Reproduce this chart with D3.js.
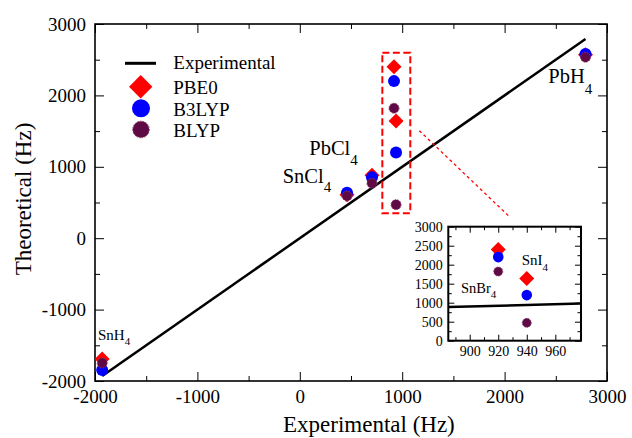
<!DOCTYPE html>
<html><head><meta charset="utf-8">
<script src="https://cdn.jsdelivr.net/npm/d3@7"></script>
<style>
body{margin:0;background:#fff}
svg{display:block}
text{font-family:"Liberation Serif","Times New Roman",serif;fill:#000}
</style>
</head><body>
<svg id="c" width="632" height="438"></svg>
<script>
// ---- data ----
const compounds    = ["SnH4", "SnCl4", "PbCl4", "SnBr4", "SnI4", "PbH4"];
const experimental = [-1930, 461, 705, 920, 940, 2790];
const pbe0         = [-1692, 610, 880, 2400, 1640, 2570];
const b3lyp        = [-1846, 637, 853, 2200, 1200, 2580];
const blyp         = [-1748, 591, 769, 1820, 470, 2535];
const mainTicks    = [-2000, -1000, 0, 1000, 2000, 3000];
const insetXTicks  = [900, 920, 940, 960];
const insetYTicks  = [0, 500, 1000, 1500, 2000, 2500, 3000];
const insetCompounds = ["SnBr4", "SnI4"];

const svg = d3.select("#c");
const RED = "#ff0000", BLUE = "#0000ff", PURP = "#5f0a45";
const fmt = d => String(d);

// ---- main scales ----
const x = d3.scaleLinear([-2000, 3000], [95, 607]);
const y = d3.scaleLinear([-2000, 3000], [381, 24]);
const minorMain = d3.range(-2000, 3001, 500).filter(v => v % 1000 !== 0);

function axes(g, xs, ys, majX, minX, majY, minY, L, l, fs, padX, padY) {
  const [x0, x1] = xs.range(), [y0, y1] = ys.range();
  const mk = (gen, vals, size, f, pad) => gen.tickValues(vals).tickSize(-size).tickPadding(pad).tickFormat(f);
  const add = (tr, axis) => {
    const a = g.append("g").attr("transform", tr).call(axis);
    a.select(".domain").remove();
    a.attr("font-family", null);
    a.selectAll("line").attr("stroke", "#000").attr("stroke-width", 1);
    a.selectAll("text").attr("font-size", fs).attr("fill", "#000");
    return a;
  };
  add(`translate(0,${y0})`, mk(d3.axisBottom(xs), majX, L, fmt, padX));
  add(`translate(0,${y0})`, mk(d3.axisBottom(xs), minX, l, "", padX));
  add(`translate(0,${y1})`, mk(d3.axisTop(xs), majX, L, "", padX));
  add(`translate(0,${y1})`, mk(d3.axisTop(xs), minX, l, "", padX));
  add(`translate(${x0},0)`, mk(d3.axisLeft(ys), majY, L, fmt, padY));
  add(`translate(${x0},0)`, mk(d3.axisLeft(ys), minY, l, "", padY));
  add(`translate(${x1},0)`, mk(d3.axisRight(ys), majY, L, "", padY));
  add(`translate(${x1},0)`, mk(d3.axisRight(ys), minY, l, "", padY));
}

const gMain = svg.append("g");
axes(gMain, x, y, mainTicks, minorMain, mainTicks, minorMain, 9, 5, 19, 8.5, 9);
gMain.append("rect").attr("x", 95).attr("y", 24).attr("width", 512).attr("height", 357)
  .attr("fill", "none").attr("stroke", "#000").attr("stroke-width", 1.6);

// ---- markers ----
function diamond(g, cx, cy, half, color) {
  g.append("path")
    .attr("d", d3.symbol(d3.symbolSquare, (half * Math.SQRT2) ** 2)())
    .attr("transform", `translate(${cx},${cy}) rotate(45)`)
    .attr("fill", color);
}
function dot(g, cx, cy, r, color, dotted) {
  const c = g.append("circle").attr("cx", cx).attr("cy", cy).attr("r", r).attr("fill", color);
  if (dotted) c.attr("stroke", "#8a3a6a").attr("stroke-width", 1).attr("stroke-dasharray", "1.5,1.2");
}

// experimental line y = x
const ext = d3.extent(experimental);
gMain.append("line")
  .attr("x1", x(ext[0])).attr("y1", y(ext[0]))
  .attr("x2", x(ext[1])).attr("y2", y(ext[1]))
  .attr("stroke", "#000").attr("stroke-width", 2.5);

const gPts = svg.append("g");
compounds.forEach((c, i) => {
  diamond(gPts, x(experimental[i]), y(pbe0[i]), 7.5, RED);
  dot(gPts, x(experimental[i]), y(b3lyp[i]), 6, BLUE, false);
  dot(gPts, x(experimental[i]), y(blyp[i]), 5, PURP, true);
});

// ---- zoom box & pointer (data units) ----
const zoomBox = [806, 1079, 349, 2598];
svg.append("rect")
  .attr("x", x(zoomBox[0])).attr("y", y(zoomBox[3]))
  .attr("width", x(zoomBox[1]) - x(zoomBox[0])).attr("height", y(zoomBox[2]) - y(zoomBox[3]))
  .attr("fill", "none").attr("stroke", RED).attr("stroke-width", 2).attr("stroke-dasharray", "7,3.5");
const pointer = [[1167, 1506], [2053, 293]];
svg.append("line")
  .attr("x1", x(pointer[0][0])).attr("y1", y(pointer[0][1]))
  .attr("x2", x(pointer[1][0])).attr("y2", y(pointer[1][1]))
  .attr("stroke", RED).attr("stroke-width", 1.3).attr("stroke-dasharray", "3,3");

// ---- labels ----
function chem(g, px, py, base, sub, fs, sfs, dy) {
  const t = g.append("text").attr("x", px).attr("y", py).attr("font-size", fs);
  t.append("tspan").text(base);
  t.append("tspan").attr("dy", dy).attr("font-size", sfs).text(sub);
}
chem(svg, 98, 339.5, "SnH", "4", 15, 11, 5.5);
chem(svg, 282.7, 183.3, "SnCl", "4", 20.5, 15, 8.5);
chem(svg, 309.3, 155, "PbCl", "4", 20.5, 15, 9.5);
chem(svg, 548.3, 83.3, "PbH", "4", 20.5, 15, 10.5);

// axis titles
svg.append("text").attr("x", 283).attr("y", 432).attr("font-size", 23).text("Experimental (Hz)");
svg.append("text").attr("transform", "translate(31,199) rotate(-90)")
  .attr("text-anchor", "middle").attr("font-size", 23).text("Theoretical (Hz)");

// ---- legend ----
const lg = svg.append("g");
lg.append("line").attr("x1", 125).attr("x2", 156).attr("y1", 63.3).attr("y2", 63.3)
  .attr("stroke", "#000").attr("stroke-width", 3);
diamond(lg, 140.7, 86.7, 11.7, RED);
dot(lg, 141, 108.3, 9, BLUE, false);
dot(lg, 141, 129.5, 8.3, PURP, true);
const legendNames = ["Experimental", "PBE0", "B3LYP", "BLYP"];
const legendBase = [68.5, 94, 115.5, 136.7];
legendNames.forEach((n, i) => lg.append("text").attr("x", 173.3).attr("y", legendBase[i]).attr("font-size", 19).text(n));

// ---- inset ----
const xi = d3.scaleLinear([885, 978], [448.3, 581]);
const yi = d3.scaleLinear([0, 3000], [340.7, 226.7]);
const gIn = svg.append("g");
gIn.append("rect").attr("x", 448.3).attr("y", 226.7).attr("width", 581 - 448.3).attr("height", 340.7 - 226.7)
  .attr("fill", "#fff");
const insetMinorX = d3.range(890, 978, 10).filter(v => v % 20 !== 0);
const insetMinorY = d3.range(250, 3000, 500);
axes(gIn, xi, yi, insetXTicks, insetMinorX, insetYTicks, insetMinorY, 6, 3.5, 14, 5.4, 5.6);
// experimental y = x within inset
const [ix0, ix1] = xi.domain();
gIn.append("line").attr("x1", xi(ix0)).attr("y1", yi(ix0)).attr("x2", xi(ix1)).attr("y2", yi(ix1))
  .attr("stroke", "#000").attr("stroke-width", 2.5);
insetCompounds.forEach(c => {
  const i = compounds.indexOf(c);
  diamond(gIn, xi(experimental[i]), yi(pbe0[i]), 7.5, RED);
  dot(gIn, xi(experimental[i]), yi(b3lyp[i]), 5.3, BLUE, false);
  dot(gIn, xi(experimental[i]), yi(blyp[i]), 4.5, PURP, true);
});
gIn.append("rect").attr("x", 448.3).attr("y", 226.7).attr("width", 581 - 448.3).attr("height", 340.7 - 226.7)
  .attr("fill", "none").attr("stroke", "#000").attr("stroke-width", 2);
chem(gIn, 521.7, 265, "SnI", "4", 15, 11, 6);
chem(gIn, 461, 292.7, "SnBr", "4", 14.5, 11, 5.5);
</script>
</body></html>
